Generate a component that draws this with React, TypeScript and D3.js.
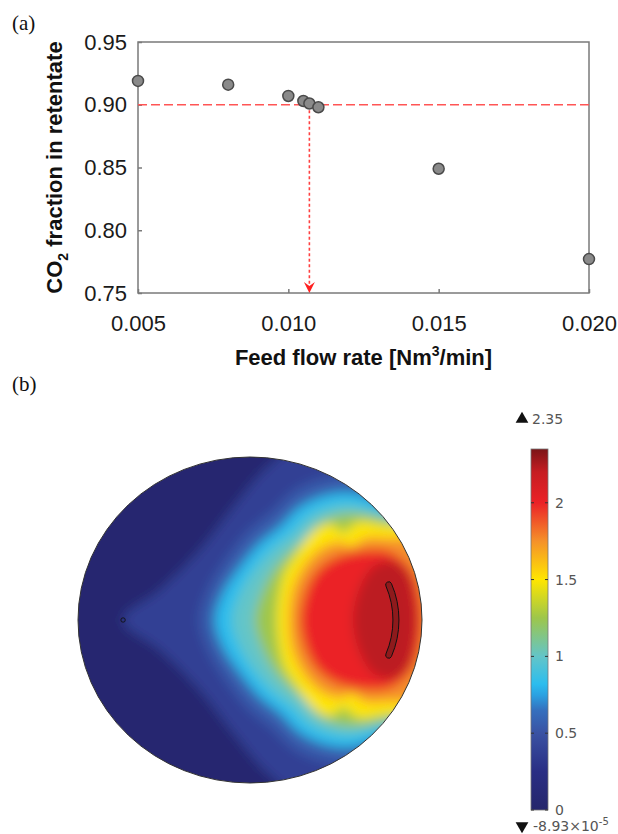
import React, { useEffect, useRef } from "react";
import * as d3 from "d3";

// ---- (a) retentate purity vs feed flow ----
const feedFlow = [0.005, 0.008, 0.01, 0.0105, 0.0107, 0.011, 0.015, 0.02];
const co2Fraction = [0.919, 0.916, 0.907, 0.903, 0.901, 0.898, 0.849, 0.777];
const xTicks = [0.005, 0.01, 0.015, 0.02];
const yTicks = [0.75, 0.8, 0.85, 0.9, 0.95];
const targetFraction = 0.9;
const targetFlow = 0.0107;

// ---- (b) colour map of the field ----
const cmapStops = [0, 0.25, 0.5, 0.65, 0.75, 0.82, 1.0, 1.25, 1.5, 1.75, 2.0, 2.2, 2.35];
const cmapColors = [
  "#25266b", "#2a2e84", "#3a52a3", "#3570be", "#2aa2e2", "#2cbdee", "#63c5c8",
  "#9dc64b", "#ffe600", "#f5912a", "#eb2227", "#c61d22", "#7b1517",
];
const barTicks = [0, 0.5, 1, 1.5, 2];
const fieldMax = "2.35";
const fieldMinMantissa = "-8.93×10";
const fieldMinExp = "-5";

// contour outlines (upper half, disc units, mirrored about the axis)
const backgroundLevel = 0.05;
const levelValues = [0.38, 0.55, 0.82, 1.0, 1.25, 1.5, 1.75, 2.0, 2.22];
const contour035 = [[-0.738, 0], [-0.523, 0.184], [-0.291, 0.429], [-0.087, 0.706], [0.116, 0.951], [0.407, 1.15], [1.2, 1.15], [1.25, 0]];
const contour060 = [[-0.291, 0], [-0.244, 0.184], [-0.14, 0.368], [-0.012, 0.54], [0.128, 0.663], [0.267, 0.798], [0.448, 0.871], [0.64, 0.883], [0.843, 0.828], [1.1, 0.74], [1.25, 0]];
const contour085 = [[-0.203, 0], [-0.157, 0.166], [-0.058, 0.325], [0.058, 0.472], [0.174, 0.571], [0.291, 0.693], [0.448, 0.767], [0.599, 0.779], [0.756, 0.718], [0.872, 0.644], [1.1, 0.49], [1.25, 0]];
const contour100 = [[-0.105, 0], [-0.058, 0.172], [0.029, 0.319], [0.134, 0.442], [0.244, 0.534], [0.337, 0.632], [0.465, 0.693], [0.599, 0.706], [0.744, 0.656], [1.1, 0.46], [1.25, 0]];
const contour125 = [[0.029, 0], [0.07, 0.166], [0.14, 0.307], [0.233, 0.417], [0.32, 0.491], [0.407, 0.595], [0.523, 0.644], [0.64, 0.65], [0.767, 0.626], [1.1, 0.49], [1.25, 0]];
const contour150 = [[0.157, 0], [0.169, 0.153], [0.203, 0.294], [0.267, 0.399], [0.331, 0.503], [0.395, 0.564], [0.477, 0.589], [0.541, 0.534], [0.628, 0.601], [0.767, 0.583], [1.1, 0.52], [1.25, 0]];
const contour175 = [[0.227, 0], [0.244, 0.172], [0.291, 0.294], [0.36, 0.393], [0.436, 0.454], [0.523, 0.479], [0.593, 0.454], [0.669, 0.503], [0.785, 0.503], [1.1, 0.46], [1.25, 0]];
const contour200 = [[0.291, 0], [0.32, 0.166], [0.378, 0.288], [0.465, 0.368], [0.57, 0.411], [0.686, 0.429], [0.814, 0.417], [0.94, 0.3], [1.0, 0]];
const contour225 = [[0.6, 0], [0.64, 0.2], [0.72, 0.33], [0.83, 0.36], [0.92, 0.29], [0.96, 0.12], [0.97, 0]];
const contours = [contour035, contour060, contour085, contour100, contour125, contour150, contour175, contour200, contour225];

// probe point and crescent-shaped inlet (disc units)
const probe = [-0.738, 0];
const crescentCenter = [0.331, 0];
const crescentRadius = [0.5, 0.535];
const crescentHalfAngle = 0.44;

const sans = "'Liberation Sans', Arial, sans-serif";
const serif = "'Liberation Serif', 'Times New Roman', serif";
const cbFont = "'DejaVu Sans', Verdana, sans-serif";

// upper half runs from the left axis point to the right axis point; mirror the interior
function closeOutline(upper: number[][]) {
  const lower = upper.slice(1, -1).reverse().map(([u, v]) => [u, -v]);
  return [...upper, ...lower];
}

export default function App() {
  const xAxisRef = useRef<SVGGElement>(null);
  const yAxisRef = useRef<SVGGElement>(null);

  const margin = { left: 138, right: 589, top: 42, bottom: 293 };
  const x = d3.scaleLinear().domain([0.005, 0.02]).range([margin.left, margin.right]);
  const y = d3.scaleLinear().domain([0.75, 0.95]).range([margin.bottom, margin.top]);

  const dx = d3.scaleLinear().domain([-1, 1]).range([78, 422]);
  const dy = d3.scaleLinear().domain([-1, 1]).range([783, 457]);
  const color = d3.scaleLinear<string>().domain(cmapStops).range(cmapColors).interpolate(d3.interpolateRgb);
  const cb = d3.scaleLinear().domain([0, 2.35]).range([810, 449]);

  useEffect(() => {
    const xa = d3.select(xAxisRef.current!);
    xa.selectAll("*").remove();
    xa.call(
      d3.axisBottom(x).tickValues(xTicks).tickFormat(d3.format(".3f")).tickSizeInner(-4).tickSizeOuter(0).tickPadding(22)
    );
    const ya = d3.select(yAxisRef.current!);
    ya.selectAll("*").remove();
    ya.call(
      d3.axisLeft(y).tickValues(yTicks).tickFormat(d3.format(".2f")).tickSizeInner(-4).tickSizeOuter(0).tickPadding(11)
    );
    [xa, ya].forEach((g) => {
      g.select(".domain").remove();
      g.selectAll(".tick line").attr("stroke", "#7a7a7a").attr("stroke-width", 1.5);
      g.selectAll(".tick text")
        .attr("fill", "#1a1a1a")
        .style("font-family", sans)
        .style("font-size", "22px");
    });
  }, []);

  const line = d3
    .line<number[]>()
    .x((d) => dx(d[0]))
    .y((d) => dy(d[1]))
    .curve(d3.curveCatmullRomClosed.alpha(0.5));

  const cx = dx(0);
  const cy = dy(0);
  const rx = dx(1) - cx;
  const ry = cy - dy(1);

  const crescent = d3
    .arc()
    .innerRadius(crescentRadius[0] * rx)
    .outerRadius(crescentRadius[1] * rx)
    .startAngle(Math.PI / 2 - crescentHalfAngle)
    .endAngle(Math.PI / 2 + crescentHalfAngle)
    .cornerRadius(3);

  const ax = x(targetFlow);
  const ay0 = y(targetFraction);
  const ay1 = y(0.75);

  return (
    <svg width={618} height={834} style={{ position: "absolute", left: 0, top: 0, background: "#fff" }}>
      <defs>
        <clipPath id="disc">
          <ellipse cx={cx} cy={cy} rx={rx} ry={ry} />
        </clipPath>
        <filter id="soft" x="-20%" y="-20%" width="140%" height="140%">
          <feGaussianBlur stdDeviation={6} />
        </filter>
        <linearGradient id="bar" x1="0" y1="1" x2="0" y2="0">
          {cmapStops.map((s, i) => (
            <stop key={i} offset={s / 2.35} stopColor={cmapColors[i]} />
          ))}
        </linearGradient>
      </defs>

      {/* (a) */}
      <text x={12} y={30} fontFamily={serif} fontSize={21} fill="#111">(a)</text>
      <rect
        x={margin.left}
        y={margin.top}
        width={margin.right - margin.left}
        height={margin.bottom - margin.top}
        fill="none"
        stroke="#7a7a7a"
        strokeWidth={1.5}
      />
      <g ref={xAxisRef} transform={`translate(0,${margin.bottom})`} />
      <g ref={yAxisRef} transform={`translate(${margin.left},0)`} />
      <line x1={margin.left} x2={margin.right} y1={ay0} y2={ay0} stroke="#ff5555" strokeWidth={1.6} strokeDasharray="9,4" />
      <line x1={ax} x2={ax} y1={ay0} y2={ay1 - 7} stroke="#ff4040" strokeWidth={1.6} strokeDasharray="3,2.5" />
      <path d={`M${ax},${ay1} L${ax - 5.5},${ay1 - 11} L${ax},${ay1 - 7} L${ax + 5.5},${ay1 - 11} Z`} fill="#ff2020" />
      {feedFlow.map((f, i) => (
        <circle key={i} cx={x(f)} cy={y(co2Fraction[i])} r={5.5} fill="#8a8a8a" stroke="#4a4a4a" strokeWidth={1.5} />
      ))}
      <text
        transform={`translate(62,${(margin.top + margin.bottom) / 2}) rotate(-90)`}
        textAnchor="middle"
        fontFamily={sans}
        fontWeight="bold"
        fontSize={22}
        fill="#111"
      >
        CO<tspan fontSize={14} dy={6}>2</tspan>
        <tspan dy={-6}> fraction in retentate</tspan>
      </text>
      <text x={(margin.left + margin.right) / 2} y={365} textAnchor="middle" fontFamily={sans} fontWeight="bold" fontSize={22} fill="#111">
        Feed flow rate [Nm<tspan fontSize={14} dy={-9}>3</tspan>
        <tspan dy={9}>/min]</tspan>
      </text>

      {/* (b) */}
      <text x={12} y={391} fontFamily={serif} fontSize={21} fill="#111">(b)</text>
      <g clipPath="url(#disc)">
        <g filter="url(#soft)">
          <rect x={dx(-1.2)} y={dy(1.2)} width={dx(1.2) - dx(-1.2)} height={dy(-1.2) - dy(1.2)} fill={color(backgroundLevel)} />
          {contours.map((c, i) => (
            <path key={i} d={line(closeOutline(c)) || ""} fill={color(levelValues[i])} />
          ))}
        </g>
      </g>
      <ellipse cx={cx} cy={cy} rx={rx} ry={ry} fill="none" stroke="#333" strokeWidth={1} />
      <path
        d={crescent({} as any) || ""}
        transform={`translate(${dx(crescentCenter[0])},${dy(crescentCenter[1])})`}
        fill="#8e1a1c"
        stroke="#111"
        strokeWidth={1}
      />
      <circle cx={dx(probe[0])} cy={dy(probe[1])} r={2.2} fill="none" stroke="#111" strokeWidth={0.9} />

      {/* colour bar */}
      <rect x={531} y={cb(2.35)} width={17} height={cb(0) - cb(2.35)} fill="url(#bar)" stroke="#777" strokeWidth={0.8} />
      {barTicks.map((t) => (
        <g key={t}>
          <line x1={531} x2={534} y1={cb(t)} y2={cb(t)} stroke="#333" strokeWidth={1} />
          <line x1={545} x2={548} y1={cb(t)} y2={cb(t)} stroke="#333" strokeWidth={1} />
          <text x={555} y={cb(t) + 5} fontFamily={cbFont} fontSize={14} fill="#555">{t}</text>
        </g>
      ))}
      <path d={d3.symbol(d3.symbolTriangle, 70)() || ""} transform="translate(522,419)" fill="#111" />
      <text x={532} y={424} fontFamily={cbFont} fontSize={14} fill="#555">{fieldMax}</text>
      <path d={d3.symbol(d3.symbolTriangle, 70)() || ""} transform="translate(522,826) rotate(180)" fill="#111" />
      <text x={533} y={831} fontFamily={cbFont} fontSize={14} fill="#555">
        {fieldMinMantissa}
        <tspan fontSize={10} dy={-6}>{fieldMinExp}</tspan>
      </text>
    </svg>
  );
}
